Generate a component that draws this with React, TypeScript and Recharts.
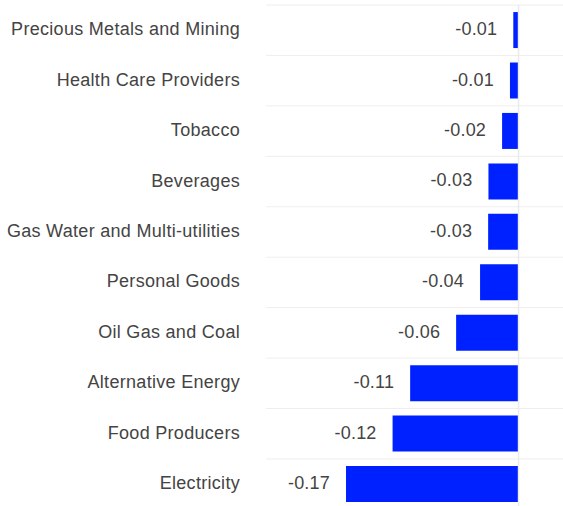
import React from 'react';
import { BarChart, Bar, XAxis, YAxis, CartesianGrid, ReferenceLine, LabelList } from 'recharts';

const categories = [
  'Precious Metals and Mining',
  'Health Care Providers',
  'Tobacco',
  'Beverages',
  'Gas Water and Multi-utilities',
  'Personal Goods',
  'Oil Gas and Coal',
  'Alternative Energy',
  'Food Producers',
  'Electricity',
];
const values = [-0.0052, -0.0085, -0.0163, -0.0298, -0.0301, -0.0381, -0.0618, -0.1073, -0.1247, -0.1708];

const data = categories.map((name, i) => ({ name, value: values[i] }));

const FONT = '"Liberation Sans", Arial, sans-serif';
const TEXT = '#444444';

const rowBoundaries = ({ offset }: any) => {
  const n = categories.length;
  const pts: number[] = [];
  for (let i = 0; i <= n; i++) pts.push(offset.top + (i * offset.height) / n);
  return pts;
};

const ValueLabel = (props: any) => {
  const { x, y, width, height, value } = props;
  const left = Math.min(Number(x), Number(x) + Number(width));
  return (
    <text
      x={left - 16}
      y={Number(y) + Number(height) / 2 - 1}
      textAnchor="end"
      dominantBaseline="central"
      fill={TEXT}
      fontSize={18}
      fontFamily={FONT}
      letterSpacing={0.2}
    >
      {Number(value).toFixed(2)}
    </text>
  );
};

const CategoryTick = (props: any) => {
  const { x, y, payload } = props;
  return (
    <text
      x={Number(x)}
      y={Number(y) - 1}
      textAnchor="end"
      dominantBaseline="central"
      fill={TEXT}
      fontSize={18}
      fontFamily={FONT}
      letterSpacing={0.3}
    >
      {payload.value}
    </text>
  );
};

export default function App() {
  return (
    <div style={{ position: 'absolute', left: 0, top: 0 }}>
      <BarChart
        width={563}
        height={520}
        data={data}
        layout="vertical"
        margin={{ top: 5, right: 0, bottom: 10.6, left: 0 }}
        barCategoryGap="14%"
      >
        <CartesianGrid
          vertical={false}
          stroke="#eeeeee"
          horizontalCoordinatesGenerator={rowBoundaries}
        />
        <XAxis type="number" domain={[-0.25, 0.044]} hide />
        <YAxis
          type="category"
          dataKey="name"
          width={266}
          axisLine={false}
          tickLine={false}
          tickSize={0}
          tickMargin={26}
          interval={0}
          tick={CategoryTick}
        />
        <ReferenceLine x={0} stroke="#ebebeb" strokeWidth={1.5} />
        <Bar dataKey="value" fill="#0021ff" isAnimationActive={false}>
          <LabelList dataKey="value" content={ValueLabel} />
        </Bar>
      </BarChart>
    </div>
  );
}
